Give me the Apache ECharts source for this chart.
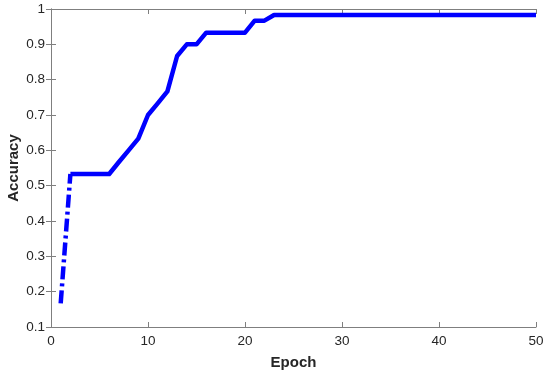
<!DOCTYPE html>
<html>
<head>
<meta charset="utf-8">
<script src="https://cdn.jsdelivr.net/npm/echarts@6/dist/echarts.min.js"></script>
<style>
  html, body { margin: 0; padding: 0; background: #fff; }
  #chart { width: 550px; height: 375px; }
</style>
</head>
<body>
<div id="chart"></div>
<script>
"use strict";
// accuracy per epoch
const epochs = [];
for (let e = 1; e <= 50; e++) epochs.push(e);
const accuracy = [
  0.167, 0.533, 0.533, 0.533, 0.533, 0.533, 0.567, 0.6, 0.633, 0.7,
  0.733, 0.767, 0.867, 0.9, 0.9, 0.933, 0.933, 0.933, 0.933, 0.933,
  0.967, 0.967, 0.983, 0.983, 0.983, 0.983, 0.983, 0.983, 0.983, 0.983,
  0.983, 0.983, 0.983, 0.983, 0.983, 0.983, 0.983, 0.983, 0.983, 0.983,
  0.983, 0.983, 0.983, 0.983, 0.983, 0.983, 0.983, 0.983, 0.983, 0.983
];
const xTicks = [0, 10, 20, 30, 40, 50];
const yTicks = [0.1, 0.2, 0.3, 0.4, 0.5, 0.6, 0.7, 0.8, 0.9, 1];

const pts = epochs.map((e, i) => [e, accuracy[i]]);
// the steep first stretch shows the dash-dot clearly, the rest renders nearly solid
const firstPart = pts.slice(0, 2);
const restPart = pts.slice(1);

const chart = echarts.init(document.getElementById("chart"));

const axisCol = "#7f7f7f";
const textCol = "#262626";
const font = "Liberation Sans, Arial, sans-serif";

const lineCommon = {
  type: "line",
  showSymbol: false,
  symbol: "none",
  silent: true,
  animation: false,
};

/** @type {echarts.EChartsOption} */
const options = {
  backgroundColor: "#fff",
  animation: false,
  grid: { left: 51, right: 14, top: 9, bottom: 48, containLabel: false, outerBoundsMode: "none" },
  xAxis: [
    {
      type: "value",
      min: xTicks[0],
      max: xTicks[xTicks.length - 1],
      interval: 10,
      name: "Epoch",
      nameLocation: "middle",
      nameGap: 28,
      nameMoveOverlap: false,
      nameTextStyle: { color: textCol, fontWeight: "bold", fontSize: 15, fontFamily: font },
      axisLine: { lineStyle: { color: axisCol, width: 1 } },
      axisTick: { inside: true, length: 5, lineStyle: { color: axisCol } },
      axisLabel: { color: textCol, fontSize: 13.5, fontFamily: font, margin: 7 },
      splitLine: { show: false },
    },
    {
      type: "value",
      position: "top",
      min: xTicks[0],
      max: xTicks[xTicks.length - 1],
      interval: 10,
      axisLine: { show: true, lineStyle: { color: axisCol, width: 1 } },
      axisTick: { inside: true, length: 5, lineStyle: { color: axisCol } },
      axisLabel: { show: false },
      splitLine: { show: false },
    },
  ],
  yAxis: [
    {
      type: "value",
      min: yTicks[0],
      max: yTicks[yTicks.length - 1],
      interval: 0.1,
      name: "Accuracy",
      nameLocation: "middle",
      nameGap: 30,
      nameMoveOverlap: false,
      nameTextStyle: { color: textCol, fontWeight: "bold", fontSize: 15, fontFamily: font },
      axisLine: { show: true, lineStyle: { color: axisCol, width: 1 } },
      axisTick: { show: true, inside: true, length: 5, lineStyle: { color: axisCol } },
      axisLabel: {
        color: textCol, fontSize: 13.5, fontFamily: font, margin: 6,
        formatter: (v) => String(Math.round(v * 10) / 10),
      },
      splitLine: { show: false },
    },
    {
      type: "value",
      position: "right",
      min: yTicks[0],
      max: yTicks[yTicks.length - 1],
      interval: 0.1,
      axisLine: { show: true, lineStyle: { color: axisCol, width: 1 } },
      axisTick: { show: true, inside: true, length: 5, lineStyle: { color: axisCol } },
      axisLabel: { show: false },
      splitLine: { show: false },
    },
  ],
  series: [
    {
      ...lineCommon,
      data: firstPart,
      lineStyle: { color: "#0000ff", width: 4.5, type: [13, 4, 3, 4], cap: "butt" },
    },
    {
      ...lineCommon,
      data: restPart,
      lineStyle: { color: "#0000ff", width: 4.5, type: "solid", join: "round" },
    },
  ],
};

chart.setOption(options);
</script>
</body>
</html>
